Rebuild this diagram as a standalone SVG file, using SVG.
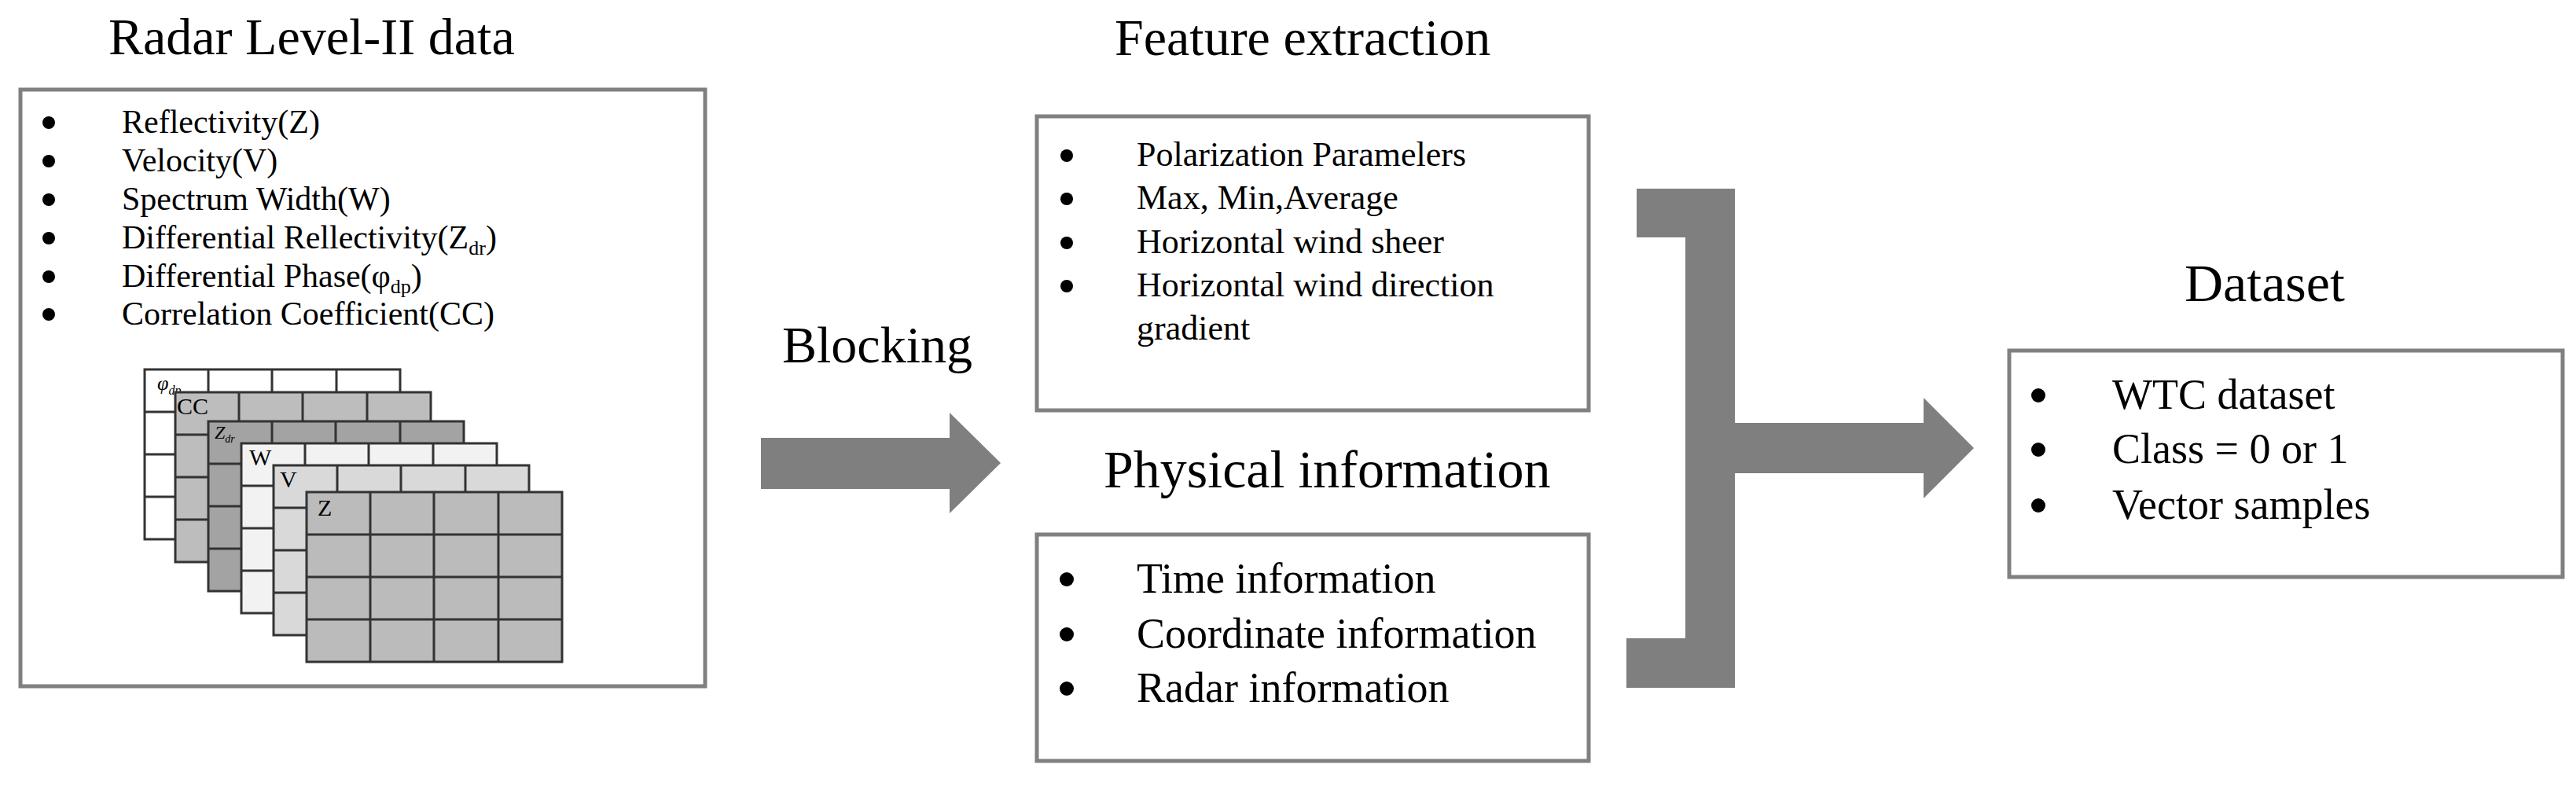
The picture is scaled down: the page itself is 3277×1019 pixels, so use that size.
<svg xmlns="http://www.w3.org/2000/svg" width="3277" height="1019" viewBox="0 0 3277 1019">
<style>
text{font-family:"Liberation Serif","Times New Roman",serif;fill:#000}
.t{font-size:66px}
.l{font-size:42px}
.m{font-size:54px}
.box{fill:#fff;stroke:#808080;stroke-width:5}
.ar{fill:#7f7f7f}
.g{stroke:#333;stroke-width:3}
.gl{font-size:30px}
</style>
<defs>
<g id="grid">
<rect width="325" height="216" class="g"/>
<path d="M81 0V216M162 0V216M244 0V216M0 54H325M0 108H325M0 162H325" class="g" fill="none"/>
</g>
</defs>
<g id="radar">
<text x="138" y="69" class="t">Radar Level-II data</text>
<rect x="26" y="114" width="871" height="759" class="box"/>
<g class="l">
<circle cx="62" cy="156" r="8"/><text x="155" y="169">Reflectivity(Z)</text>
<circle cx="62" cy="205" r="8"/><text x="155" y="218">Velocity(V)</text>
<circle cx="62" cy="254" r="8"/><text x="155" y="267">Spectrum Width(W)</text>
<circle cx="62" cy="303" r="8"/><text x="155" y="316">Differential Rellectivity(Z<tspan font-size="26" dy="8">dr</tspan><tspan dy="-8">)</tspan></text>
<circle cx="62" cy="352" r="8"/><text x="155" y="365">Differential Phase(φ<tspan font-size="26" dy="8">dp</tspan><tspan dy="-8">)</tspan></text>
<circle cx="62" cy="400" r="8"/><text x="155" y="413">Correlation Coefficient(CC)</text>
</g>
<use href="#grid" x="184" y="470" fill="#ffffff"/>
<text x="200" y="496" font-size="26" font-style="italic">φ<tspan font-size="16" dy="6">dp</tspan></text>
<use href="#grid" x="223" y="499" fill="#bdbdbd"/>
<text x="225" y="527" class="gl">CC</text>
<use href="#grid" x="265" y="536" fill="#a3a3a3"/>
<text x="273" y="558" font-size="24" font-style="italic">Z<tspan font-size="14" dy="5">dr</tspan></text>
<use href="#grid" x="307" y="564" fill="#f2f2f2"/>
<text x="317" y="592" class="gl">W</text>
<use href="#grid" x="348" y="592" fill="#d9d9d9"/>
<text x="356" y="620" class="gl">V</text>
<use href="#grid" x="390" y="626" fill="#bbbbbb"/>
<text x="404" y="656" class="gl">Z</text>
</g>
<g id="feature">
<text x="1418" y="70" class="t">Feature extraction</text>
<rect x="1319" y="148" width="702" height="374" class="box"/>
<g font-size="44px">
<circle cx="1357" cy="198" r="8"/><text x="1446" y="211">Polarization Paramelers</text>
<circle cx="1357" cy="253" r="8"/><text x="1446" y="266">Max, Min,Average</text>
<circle cx="1357" cy="309" r="8"/><text x="1446" y="322">Horizontal wind sheer</text>
<circle cx="1357" cy="364" r="8"/><text x="1446" y="377">Horizontal wind direction</text>
<text x="1446" y="432">gradient</text>
</g>
</g>
<g id="physical">
<text x="1404" y="620" font-size="68px">Physical information</text>
<rect x="1319" y="680" width="702" height="288" class="box"/>
<g class="m">
<circle cx="1357" cy="737" r="9"/><text x="1446" y="754">Time information</text>
<circle cx="1357" cy="807" r="9"/><text x="1446" y="824">Coordinate information</text>
<circle cx="1357" cy="876" r="9"/><text x="1446" y="893">Radar information</text>
</g>
</g>
<g id="dataset">
<text x="2779" y="383" font-size="68px">Dataset</text>
<rect x="2556" y="446" width="704" height="288" class="box"/>
<g class="m">
<circle cx="2593" cy="503" r="9"/><text x="2687" y="520">WTC dataset</text>
<circle cx="2593" cy="572" r="9"/><text x="2687" y="589">Class = 0 or 1</text>
<circle cx="2593" cy="643" r="9"/><text x="2687" y="660">Vector samples</text>
</g>
</g>
<g id="connectors">
<text x="995" y="461" class="t">Blocking</text>
<polygon class="ar" points="968,557 1208,557 1208,525 1273,589 1208,653 1208,622 968,622"/>
<polygon class="ar" points="2082,240 2207,240 2207,875 2069,875 2069,812 2144,812 2144,302 2082,302"/>
<polygon class="ar" points="2207,538 2447,538 2447,506 2511,570 2447,634 2447,602 2207,602"/>
</g>
</svg>
